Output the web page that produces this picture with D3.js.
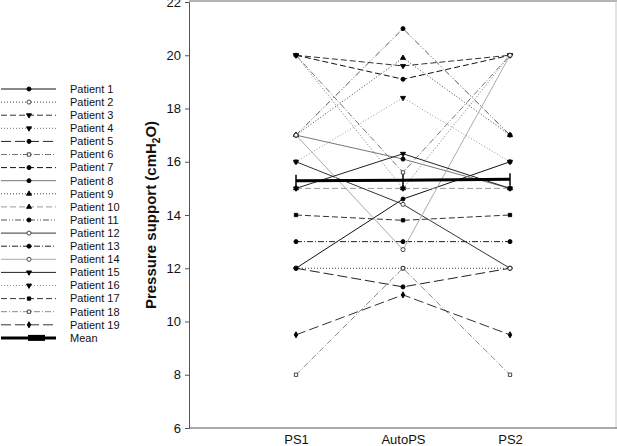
<!DOCTYPE html>
<html><head><meta charset="utf-8">
<script src="https://cdn.jsdelivr.net/npm/d3@7"></script>
<style>body{margin:0;background:#fff}svg{display:block;font-family:"Liberation Sans",Arial,sans-serif}</style>
</head><body><svg id="c" width="617" height="446"></svg>
<script>
const conditions = ["PS1", "AutoPS", "PS2"];
const yTicks = [6, 8, 10, 12, 14, 16, 18, 20, 22];
const patients = ["Patient 1","Patient 2","Patient 3","Patient 4","Patient 5","Patient 6","Patient 7","Patient 8","Patient 9","Patient 10","Patient 11","Patient 12","Patient 13","Patient 14","Patient 15","Patient 16","Patient 17","Patient 18","Patient 19"];
const ps1    = [12, 12, 20, 20, 12, 20, 20, 17, 17, 15, 17, 16, 13, 17, 15, 16, 14, 8, 9.5];
const autoPS = [14.6, 12, 19.6, 15.0, 11.3, 15.6, 19.1, 16.1, 19.9, 15.0, 21, 14.4, 13, 12.7, 16.3, 18.4, 13.8, 12, 11];
const ps2    = [16, 12, 20, 20, 12, 20, 20, 15, 17, 15, 17, 12, 13, 20, 15, 16, 14, 8, 9.5];
// styles per patient: dash, colour, marker, filled
const dashes  = ["", "1,2", "6,3", "1,2", "10,4", "6,2,1,2", "6,3", "", "1,2", "6,3", "6,2,1,2,1,2", "", "6,2,1,2", "", "", "1,2", "6,3", "6,2,1,2", "10,4"];
const colours = ["#111","#444","#333","#777","#222","#777","#111","#777","#444","#999","#555","#333","#222","#aaa","#222","#999","#333","#888","#333"];
const markers = ["circle","circle","triangle-down","triangle-down","circle","square","circle","circle","triangle","triangle","circle","circle","circle","circle","triangle-down","triangle-down","square","square","diamond"];
const filled  = [true,false,true,true,true,false,true,true,true,true,true,false,true,false,true,true,true,false,true];

const svg = d3.select("#c");
const x = d3.scalePoint().domain(conditions).range([189, 617]).padding(1);
const y = d3.scaleLinear().domain([6, 22]).range([428, 2]);

// frame
svg.append("line").attr("x1",189).attr("x2",617).attr("y1",1).attr("y2",1).attr("stroke","#b5b5b5").attr("stroke-width",2);
svg.append("line").attr("x1",616).attr("x2",616).attr("y1",1).attr("y2",428).attr("stroke","#c8c8c8").attr("stroke-width",1);

const yAxis = svg.append("g").attr("transform","translate(189,0)")
  .call(d3.axisLeft(y).tickValues(yTicks).tickSize(4).tickPadding(4));
yAxis.select(".domain").attr("stroke","#555");
yAxis.selectAll(".tick line").attr("stroke","#555");
yAxis.selectAll("text").attr("font-size",13).attr("fill","#111");

const xAxis = svg.append("g").attr("transform","translate(0,428)")
  .call(d3.axisBottom(x).tickSize(0).tickPadding(7));
xAxis.select(".domain").attr("stroke","#555").attr("d","M189,0H617");
xAxis.selectAll("text").attr("font-size",13).attr("fill","#111");

const yl = svg.append("text").attr("transform","translate(156,215) rotate(-90)")
  .attr("text-anchor","middle").attr("font-size",15).attr("font-weight","bold").attr("fill","#111");
yl.append("tspan").text("Pressure support (cmH");
yl.append("tspan").text("2").attr("font-size",10).attr("dy",4);
yl.append("tspan").text("O)").attr("dy",-4);

const symMap = {circle:d3.symbolCircle, square:d3.symbolSquare, triangle:d3.symbolTriangle, "triangle-down":d3.symbolTriangle, diamond:d3.symbolDiamond};
function marker(g, i, cx, cy) {
  const s = d3.symbol().type(symMap[markers[i]]).size(markers[i]==="circle"?13:11);
  g.append("path").attr("d", s()).attr("transform", `translate(${cx},${cy})` + (markers[i]==="triangle-down"?" rotate(180)":""))
    .attr("fill", filled[i] ? "#000" : "#fff").attr("stroke", filled[i] ? "#000" : "#333").attr("stroke-width", 0.9);
}

const line = d3.line().x(d => x(d.c)).y(d => y(d.v));
const plot = svg.append("g");
patients.forEach((p, i) => {
  const pts = [{c:"PS1",v:ps1[i]},{c:"AutoPS",v:autoPS[i]},{c:"PS2",v:ps2[i]}];
  plot.append("path").attr("d", line(pts)).attr("fill","none").attr("stroke",colours[i]).attr("stroke-width",1).attr("stroke-dasharray",dashes[i]);
});
patients.forEach((p, i) => {
  const pts = [{c:"PS1",v:ps1[i]},{c:"AutoPS",v:autoPS[i]},{c:"PS2",v:ps2[i]}];
  pts.forEach(d => marker(plot, i, x(d.c), y(d.v)));
});
const means = [{c:"PS1",v:d3.mean(ps1)},{c:"AutoPS",v:d3.mean(autoPS)},{c:"PS2",v:d3.mean(ps2)}];
plot.append("path").attr("d", line(means)).attr("fill","none").attr("stroke","#000").attr("stroke-width",3);
means.forEach(d => plot.append("line").attr("x1",x(d.c)).attr("x2",x(d.c)).attr("y1",y(d.v)-6).attr("y2",y(d.v)+6).attr("stroke","#000").attr("stroke-width",1.5));

// legend
const lg = svg.append("g");
const rowY = i => 89 + i * 13.1;
patients.forEach((p, i) => {
  lg.append("line").attr("x1",1).attr("x2",56).attr("y1",rowY(i)).attr("y2",rowY(i)).attr("stroke",colours[i]).attr("stroke-width",1).attr("stroke-dasharray",dashes[i]);
  marker(lg, i, 29, rowY(i));
  lg.append("text").attr("x",70).attr("y",rowY(i)).attr("dy","0.35em").attr("font-size",11).attr("fill","#111").text(p);
});
const my = rowY(19);
lg.append("line").attr("x1",1).attr("x2",56).attr("y1",my).attr("y2",my).attr("stroke","#000").attr("stroke-width",3);
lg.append("rect").attr("x",28).attr("y",my-3).attr("width",17).attr("height",6).attr("fill","#000");
lg.append("text").attr("x",70).attr("y",my).attr("dy","0.35em").attr("font-size",11).attr("fill","#111").text("Mean");
</script></body></html>
